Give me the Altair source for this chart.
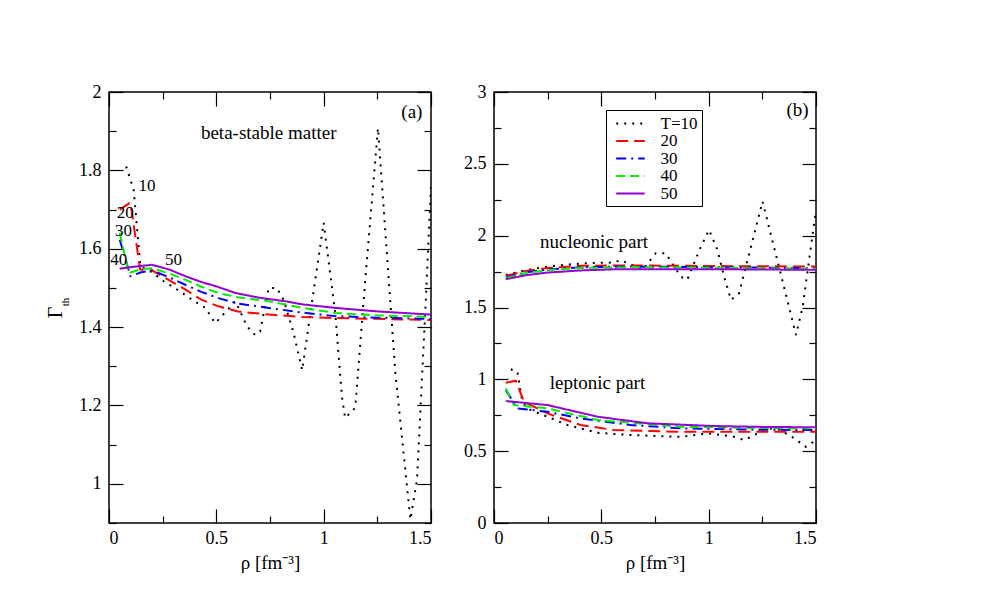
import altair as alt
import pandas as pd

# ---------------- data: panel (a) beta-stable matter ----------------
a10_x = [0.08, 0.115, 0.13, 0.146, 0.2, 0.255, 0.323, 0.387, 0.449, 0.495, 0.545, 0.589, 0.643, 0.68, 0.704,
         0.744, 0.782, 0.813, 0.86, 0.9, 0.95, 1.0, 1.054, 1.085, 1.1, 1.147, 1.194, 1.253, 1.334, 1.404, 1.435,
         1.473, 1.5]
a10_y = [1.81, 1.75, 1.657, 1.555, 1.54, 1.517, 1.494, 1.47, 1.449, 1.41, 1.44, 1.466, 1.402, 1.38, 1.389,
         1.50, 1.50, 1.47, 1.385, 1.29, 1.48, 1.666, 1.436, 1.223, 1.168, 1.194, 1.521, 1.908, 1.283, 0.909, 1.011,
         1.436, 1.76]
a20_x = [0.05, 0.1, 0.145, 0.2, 0.28, 0.355, 0.43, 0.51, 0.6, 0.744, 0.9, 1.054, 1.25, 1.5]
a20_y = [1.70, 1.718, 1.547, 1.545, 1.52, 1.496, 1.47, 1.453, 1.44, 1.432, 1.426, 1.423, 1.421, 1.418]
a30_x = [0.05, 0.1, 0.15, 0.2, 0.28, 0.355, 0.43, 0.51, 0.6, 0.744, 0.9, 1.054, 1.25, 1.5]
a30_y = [1.623, 1.53, 1.54, 1.545, 1.527, 1.508, 1.49, 1.474, 1.46, 1.449, 1.437, 1.428, 1.424, 1.421]
a40_x = [0.05, 0.092, 0.15, 0.2, 0.28, 0.355, 0.43, 0.51, 0.6, 0.744, 0.9, 1.054, 1.25, 1.5]
a40_y = [1.64, 1.538, 1.548, 1.55, 1.537, 1.521, 1.503, 1.487, 1.476, 1.466, 1.449, 1.436, 1.43, 1.426]
a50_x = [0.05, 0.1, 0.2, 0.28, 0.355, 0.43, 0.5, 0.589, 0.7, 0.821, 0.9, 1.054, 1.25, 1.5]
a50_y = [1.549, 1.553, 1.559, 1.547, 1.53, 1.515, 1.504, 1.487, 1.475, 1.466, 1.458, 1.449, 1.44, 1.432]

# ---------------- data: panel (b) nucleonic part ----------------
n10_x = [0.055, 0.15, 0.25, 0.35, 0.45, 0.56, 0.59, 0.66, 0.692, 0.754, 0.80, 0.87, 0.90, 0.964, 1.002, 1.041,
         1.072, 1.104, 1.142, 1.251, 1.329, 1.407, 1.438, 1.5]
n10_y = [1.727, 1.76, 1.785, 1.80, 1.81, 1.813, 1.83, 1.785, 1.762, 1.878, 1.878, 1.715, 1.692, 1.924, 2.04, 1.90,
         1.715, 1.553, 1.60, 2.238, 1.774, 1.309, 1.506, 2.18]
n20_x = [0.055, 0.15, 0.25, 0.404, 0.6, 0.9, 1.2, 1.5]
n20_y = [1.72, 1.755, 1.775, 1.79, 1.793, 1.79, 1.787, 1.785]
n30_x = [0.055, 0.15, 0.25, 0.404, 0.6, 0.9, 1.2, 1.5]
n30_y = [1.71, 1.745, 1.765, 1.78, 1.785, 1.782, 1.778, 1.773]
n40_x = [0.055, 0.15, 0.25, 0.404, 0.6, 0.9, 1.2, 1.5]
n40_y = [1.705, 1.74, 1.76, 1.775, 1.78, 1.778, 1.774, 1.77]
n50_x = [0.055, 0.15, 0.249, 0.404, 0.56, 0.9, 1.2, 1.5]
n50_y = [1.697, 1.725, 1.743, 1.758, 1.766, 1.767, 1.765, 1.762]

# ---------------- data: panel (b) leptonic part ----------------
l10_x = [0.078, 0.109, 0.132, 0.171, 0.249, 0.342, 0.482, 0.637, 0.87, 0.995, 1.119, 1.166, 1.228, 1.29, 1.33,
         1.399, 1.453, 1.5]
l10_y = [1.07, 1.053, 0.844, 0.786, 0.74, 0.682, 0.628, 0.612, 0.60, 0.624, 0.60, 0.577, 0.624, 0.658, 0.65,
         0.589, 0.53, 0.577]
l20_x = [0.055, 0.101, 0.14, 0.249, 0.404, 0.56, 0.87, 1.2, 1.5]
l20_y = [0.976, 0.99, 0.844, 0.763, 0.682, 0.647, 0.635, 0.635, 0.635]
l30_x = [0.055, 0.109, 0.249, 0.404, 0.637, 0.87, 1.2, 1.5]
l30_y = [0.925, 0.798, 0.774, 0.728, 0.682, 0.659, 0.65, 0.647]
l40_x = [0.055, 0.093, 0.249, 0.482, 0.87, 1.2, 1.5]
l40_y = [0.937, 0.821, 0.798, 0.717, 0.67, 0.662, 0.659]
l50_x = [0.055, 0.249, 0.482, 0.715, 1.026, 1.25, 1.5]
l50_y = [0.849, 0.821, 0.74, 0.694, 0.675, 0.669, 0.666]

series_names = ["T=10", "20", "30", "40", "50"]
series_colors = ["#000000", "#ff0000", "#0000ff", "#00ee00", "#9400d3"]
series_dashes = [[2, 6], [12, 6], [10, 5, 2, 5], [9, 5], [1, 0]]

x_major = [0, 0.5, 1, 1.5]
x_minor = [0.25, 0.75, 1.25]
ya_major = [1, 1.2, 1.4, 1.6, 1.8, 2]
ya_minor = [0.9, 1.1, 1.3, 1.5, 1.7, 1.9]
yb_major = [0, 0.5, 1, 1.5, 2, 2.5, 3]
yb_minor = [0.25, 0.75, 1.25, 1.75, 2.25, 2.75]

# annotations (data coordinates)
ann_a_text = ["(a)", "beta-stable matter"]
ann_a_x = [1.411, 0.744]
ann_a_y = [1.949, 1.895]
num_a_text = ["10", "20", "30", "40", "50"]
num_a_x = [0.177, 0.076, 0.068, 0.045, 0.301]
num_a_y = [1.761, 1.69, 1.645, 1.570, 1.572]
ann_b_text = ["(b)", "nucleonic part", "leptonic part"]
ann_b_x = [1.414, 0.466, 0.482]
ann_b_y = [2.877, 1.959, 0.976]

FONT = "Liberation Serif"


def make_df(groups):
    rows = []
    for name, part, xs, ys in groups:
        for i, (xv, yv) in enumerate(zip(xs, ys)):
            rows.append({"T": name, "part": part, "x": xv, "y": yv, "order": i})
    return pd.DataFrame(rows)


df_a = make_df([
    ("T=10", "a", a10_x, a10_y), ("20", "a", a20_x, a20_y), ("30", "a", a30_x, a30_y),
    ("40", "a", a40_x, a40_y), ("50", "a", a50_x, a50_y),
])
df_b = make_df([
    ("T=10", "n", n10_x, n10_y), ("20", "n", n20_x, n20_y), ("30", "n", n30_x, n30_y),
    ("40", "n", n40_x, n40_y), ("50", "n", n50_x, n50_y),
    ("T=10", "l", l10_x, l10_y), ("20", "l", l20_x, l20_y), ("30", "l", l30_x, l30_y),
    ("40", "l", l40_x, l40_y), ("50", "l", l50_x, l50_y),
])

W, H = 322, 431


def tick_layer(xs, ys, anchor, xvals, yvals, size, ox, oy):
    return alt.Chart(anchor).mark_point(opacity=0, clip=True).encode(
        x=alt.X("x:Q", scale=xs, axis=alt.Axis(orient=ox, values=xvals, labels=False, domain=False, grid=False,
                                              ticks=True, tickSize=size, offset=-size, title=None,
                                              tickColor="black", tickWidth=1.2)),
        y=alt.Y("y:Q", scale=ys, axis=alt.Axis(orient=oy, values=yvals, labels=False, domain=False, grid=False,
                                              ticks=True, tickSize=size, offset=-size, title=None,
                                              tickColor="black", tickWidth=1.2)),
    )


def text_layer(xs, ys, texts, xv, yv, size):
    ann = pd.DataFrame({"text": texts, "x": xv, "y": yv})
    return alt.Chart(ann).mark_text(font=FONT, fontSize=size, color="black").encode(
        x=alt.X("x:Q", scale=xs, axis=None),
        y=alt.Y("y:Q", scale=ys, axis=None),
        text="text:N",
    )


def panel(df, ydom, ymaj, ymin, extra_text_layers, ytitle, legend):
    xs = alt.Scale(domain=[0, 1.5], nice=False, zero=False)
    ys = alt.Scale(domain=ydom, nice=False, zero=False)
    anchor = pd.DataFrame({"x": [0.0], "y": [ydom[0]]})
    yaxis_kw = dict(values=ymaj, format="~g", ticks=False, tickSize=0, domain=False, grid=False,
                    labelPadding=8, labelFont=FONT, labelFontSize=18, labelColor="black")
    if ytitle:
        yaxis_kw.update(title=ytitle, titleFont=FONT, titleFontSize=20, titleFontWeight="normal",
                        titleColor="black", titleX=-54, titleY=220, titleAngle=270,
                        titleAlign="center", titleBaseline="middle")
    else:
        yaxis_kw.update(title=None)
    lines = alt.Chart(df).mark_line(clip=True, strokeWidth=2).encode(
        x=alt.X("x:Q", scale=xs, axis=alt.Axis(values=x_major, format="~g", ticks=False, tickSize=0,
                                              domain=False, grid=False, labelPadding=6,
                                              labelFont=FONT, labelFontSize=18, labelColor="black",
                                              title="ρ [fm⁻³]", titlePadding=6, titleFont=FONT,
                                              titleFontSize=19, titleFontWeight="normal", titleColor="black")),
        y=alt.Y("y:Q", scale=ys, axis=alt.Axis(**yaxis_kw)),
        color=alt.Color("T:N", scale=alt.Scale(domain=series_names, range=series_colors), legend=legend),
        strokeDash=alt.StrokeDash("T:N", scale=alt.Scale(domain=series_names, range=series_dashes),
                                  legend=legend),
        detail="part:N",
        order="order:Q",
    )
    layers = [
        lines,
        tick_layer(xs, ys, anchor, x_major, ymaj, 14, "bottom", "left"),
        tick_layer(xs, ys, anchor, x_minor, ymin, 7, "bottom", "left"),
        tick_layer(xs, ys, anchor, x_major, ymaj, 14, "top", "right"),
        tick_layer(xs, ys, anchor, x_minor, ymin, 7, "top", "right"),
    ]
    for texts, xv, yv, size in extra_text_layers:
        layers.append(text_layer(xs, ys, texts, xv, yv, size))
    if ytitle:
        sub = alt.Chart(pd.DataFrame({"t": ["th"]})).mark_text(
            font=FONT, fontSize=11, angle=270, color="black", align="center", baseline="middle"
        ).encode(x=alt.value(-43), y=alt.value(210), text="t:N")
        layers.append(sub)
    return alt.layer(*layers).resolve_axis(x="independent", y="independent").properties(width=W, height=H)


legend_b = alt.Legend(title=None, orient="none", legendX=112, legendY=18, strokeColor="black",
                      fillColor="white", padding=4.5, labelFont=FONT, labelFontSize=17, labelColor="black",
                      symbolType="M-1.8,0H1.8", symbolSize=253, symbolStrokeWidth=2, symbolOffset=11,
                      labelOffset=21, rowPadding=0.5, cornerRadius=0, labelExpr="datum.label + ' '")

pa = panel(df_a, [0.9, 2], ya_major, ya_minor,
           [(ann_a_text, ann_a_x, ann_a_y, 19), (num_a_text, num_a_x, num_a_y, 17)], "Γ", None)
pb = panel(df_b, [0, 3], yb_major, yb_minor,
           [(ann_b_text, ann_b_x, ann_b_y, 19)], None, legend_b)

chart = alt.hconcat(pa, pb, spacing=29).resolve_scale(
    x="independent", y="independent", color="independent", strokeDash="independent"
).properties(
    padding={"left": 36, "top": 74, "right": 5, "bottom": 5},
    background="white",
).configure_view(
    stroke="black", strokeWidth=1.5
).configure_axis(
    labelFont=FONT, labelFontSize=18, labelColor="black",
    titleFont=FONT, titleFontSize=19, titleColor="black", titleFontWeight="normal",
)

chart.save("out.html", embed_options={"renderer": "svg", "actions": False})
